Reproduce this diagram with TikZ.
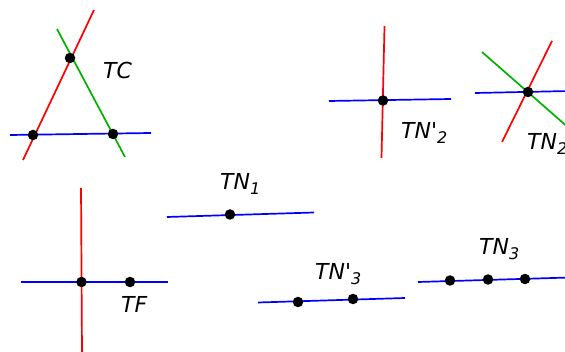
\documentclass[tikz,border=0pt]{standalone}
\usepackage{fontspec}
\newfontfamily\labfont{DejaVu Sans Oblique}
\newcommand{\lsub}[1]{\raisebox{-5pt}{\fontsize{16}{16}\selectfont #1}}
\tikzset{
  rl/.style={draw=red, line width=1.7pt},
  gl/.style={draw=green!70!black, line width=1.7pt},
  bl/.style={draw=blue, line width=1.7pt},
  pt/.style={circle, fill=black, inner sep=0pt, minimum width=10pt, minimum height=10.5pt},
  lab/.style={anchor=base west, inner sep=0pt, font=\labfont\fontsize{22}{22}\selectfont}
}
\begin{document}
\begin{tikzpicture}[x=1pt,y=-1pt]
\useasboundingbox (0,0) rectangle (565,352);
% TC
\coordinate (tcr1) at (23,160); \coordinate (tcr2) at (94,10);
\coordinate (tcg1) at (57,29); \coordinate (tcg2) at (125,157);
\coordinate (tcb1) at (10,135); \coordinate (tcb2) at (151,133);
\draw[rl] (tcr1) -- (tcr2);
\draw[gl] (tcg1) -- (tcg2);
\draw[bl] (tcb1) -- (tcb2);
\node[pt] (tca) at (70,58) {};
\node[pt] (tcb) at (33,135) {};
\node[pt] (tcc) at (113,134) {};
\node[lab] (ltc) at (103,79) {TC};
% TN'2
\coordinate (nr1) at (384.5,26); \coordinate (nr2) at (381.5,158);
\coordinate (nb1) at (329,101); \coordinate (nb2) at (451,99);
\draw[rl] (nr1) -- (nr2);
\draw[bl] (nb1) -- (nb2);
\node[pt] (np) at (383,100.5) {};
\node[lab] (ltnp2) at (401,139) {TN\textquotesingle\lsub{2}};
% TN2
\coordinate (mg1) at (482,52); \coordinate (mg2) at (570,129);
\coordinate (mr1) at (502,142); \coordinate (mr2) at (552,41);
\coordinate (mb1) at (475,93); \coordinate (mb2) at (570,91);
\draw[gl] (mg1) -- (mg2);
\draw[rl] (mr1) -- (mr2);
\draw[bl] (mb1) -- (mb2);
\node[pt] (mp) at (528,92) {};
\node[lab] (ltn2) at (527,150) {TN\lsub{2}};
% TN1
\coordinate (ab1) at (167,217); \coordinate (ab2) at (314,212.5);
\draw[bl] (ab1) -- (ab2);
\node[pt] (ap) at (230,214.5) {};
\node[lab] (ltn1) at (220,190) {TN\lsub{1}};
% TF
\coordinate (fr1) at (81,188); \coordinate (fr2) at (82,352);
\coordinate (fb1) at (21,282); \coordinate (fb2) at (168,282);
\draw[rl] (fr1) -- (fr2);
\draw[bl] (fb1) -- (fb2);
\node[pt] (fp1) at (81.5,282) {};
\node[pt] (fp2) at (130,282) {};
\node[lab] (ltf) at (121,313) {TF};
% TN'3
\coordinate (cb1) at (258,302.5); \coordinate (cb2) at (405,298);
\draw[bl] (cb1) -- (cb2);
\node[pt] (cp1) at (298,302) {};
\node[pt] (cp2) at (353,299) {};
\node[lab] (ltnp3) at (315,280) {TN\textquotesingle\lsub{3}};
% TN3
\coordinate (db1) at (418,282); \coordinate (db2) at (570,277.5);
\draw[bl] (db1) -- (db2);
\node[pt] (dp1) at (450,280.5) {};
\node[pt] (dp2) at (488,279.5) {};
\node[pt] (dp3) at (525,279) {};
\node[lab] (ltn3) at (479,255) {TN\lsub{3}};
\end{tikzpicture}
\end{document}
